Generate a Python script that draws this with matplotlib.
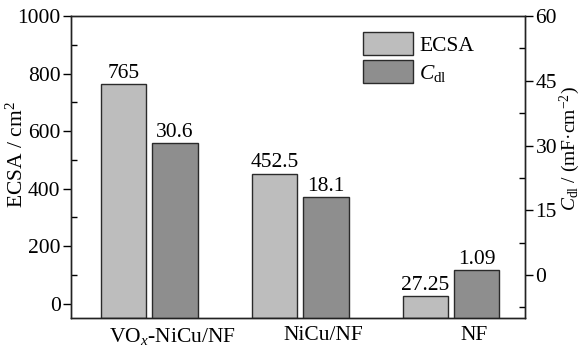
import matplotlib
matplotlib.use("Agg")
import matplotlib.pyplot as plt
import numpy as np

plt.rcParams["font.family"] = ["Liberation Serif", "DejaVu Serif"]
plt.rcParams["mathtext.fontset"] = "custom"
plt.rcParams["mathtext.rm"] = "Liberation Serif"
plt.rcParams["mathtext.it"] = "Liberation Serif:italic"
plt.rcParams["font.size"] = 15.5

samples = ["VO$_x$-NiCu/NF", "NiCu/NF", "NF"]
ecsa = [765, 452.5, 27.25]
cdl = [30.6, 18.1, 1.09]
ecsa_labels = ["765", "452.5", "27.25"]
cdl_labels = ["30.6", "18.1", "1.09"]

ecsa_color = "#bdbdbd"
cdl_color = "#8e8e8e"
edge = "#2a2a2a"

fig = plt.figure(figsize=(5.82, 3.51), dpi=100)
ax = fig.add_axes([0.122, 0.094, 0.780, 0.860])
ax2 = ax.twinx()

x = np.arange(len(samples))
w = 0.30
off = 0.17

ecsa_lo, ecsa_hi = -50, 1000
cdl_lo, cdl_hi = -10, 60

ecsa_vals = np.array(ecsa)
cdl_vals = np.array(cdl)

b1 = ax.bar(x - off, ecsa_vals - ecsa_lo, width=w, bottom=ecsa_lo,
            color=ecsa_color, edgecolor=edge, linewidth=1.0, label="ECSA")
b2 = ax2.bar(x + off, cdl_vals - cdl_lo, width=w, bottom=cdl_lo,
             color=cdl_color, edgecolor=edge, linewidth=1.0,
             label=r"$C_{\rm dl}$")

for xi, v, t in zip(x - off, ecsa_vals, ecsa_labels):
    ax.text(xi, v + 4, t, ha="center", va="bottom")
for xi, v, t in zip(x + off, cdl_vals, cdl_labels):
    ax2.text(xi, v + 0.3, t, ha="center", va="bottom")

ax.set_xlim(-0.52, 2.49)
ax.set_ylim(ecsa_lo, ecsa_hi)
ax2.set_ylim(cdl_lo, cdl_hi)

ax.set_yticks([0, 200, 400, 600, 800, 1000])
ax.set_yticks(np.arange(100, 1000, 200), minor=True)
ax2.set_yticks([0, 15, 30, 45, 60])
ax2.set_yticks([-7.5, 7.5, 22.5, 37.5, 52.5], minor=True)

ax.set_xticks(x + 0.15)
ax.set_xticklabels(samples)
ax.tick_params(axis="x", length=0, pad=6)
for a in (ax, ax2):
    a.tick_params(axis="y", which="major", direction="out", length=6,
                  width=1, pad=1.5)
    a.tick_params(axis="y", which="minor", direction="in", length=4, width=1)

ax.set_ylabel("ECSA / cm$^2$")
ax.yaxis.set_label_coords(-0.096, 0.54)
ax2.set_ylabel(r"$C_{\rm dl}$ / (mF·cm$^{-2}$)", fontsize=14)
ax2.yaxis.set_label_coords(1.073, 0.56)

for a in (ax, ax2):
    for s in a.spines.values():
        s.set_linewidth(1.0)
        s.set_color("#222222")

ax.legend(handles=[b1, b2], loc="upper left", bbox_to_anchor=(0.625, 0.975),
          frameon=False, handlelength=2.3, handleheight=1.25,
          labelspacing=0.2, handletextpad=0.3, borderaxespad=0)

fig.savefig("out.png", dpi=100)
